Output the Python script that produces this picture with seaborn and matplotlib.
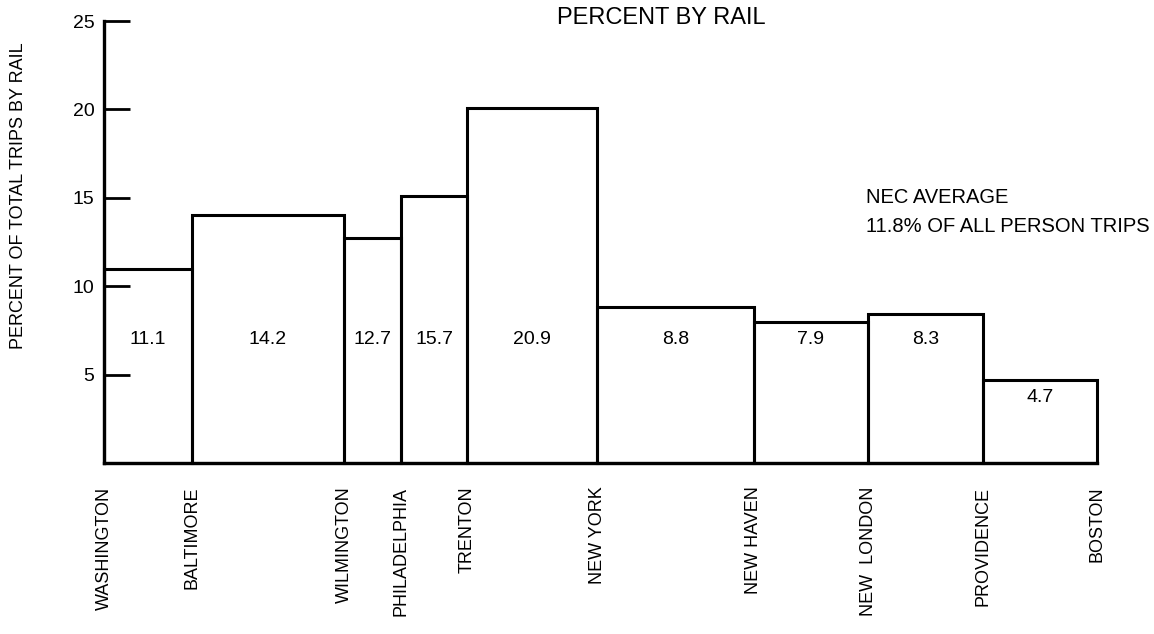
import matplotlib
matplotlib.use("Agg")  # no display
import matplotlib.pyplot as plt
import seaborn as sns
import pandas as pd

# stations along the corridor, placed by rail miles from Washington
cities = ["WASHINGTON", "BALTIMORE", "WILMINGTON", "PHILADELPHIA", "TRENTON",
          "NEW YORK", "NEW HAVEN", "NEW  LONDON", "PROVIDENCE", "BOSTON"]
city_miles = [0, 40, 109, 135, 165, 224, 295, 347, 399, 451]

# drawn height of each segment and the percentage printed inside it
bar_heights = [11.0, 14.0, 12.7, 15.1, 20.1, 8.8, 8.0, 8.4, 4.7]
bar_labels = ["11.1", "14.2", "12.7", "15.7", "20.9", "8.8", "7.9", "8.3", "4.7"]
y_ticks = [5, 10, 15, 20, 25]

df = pd.DataFrame({
    "mid": [(a + b) / 2 for a, b in zip(city_miles[:-1], city_miles[1:])],
    "pct": bar_heights,
})

sns.set_theme(style="white")
plt.rcParams["font.family"] = ["Liberation Sans", "DejaVu Sans"]
plt.rcParams["text.color"] = "black"

W, H = 1154, 634
fig = plt.figure(figsize=(W / 100, H / 100), dpi=100)
ax = fig.add_axes([104 / W, 1 - 463 / H, (1097 - 104) / W, (463 - 21) / H])

# variable-width bars: one bin per segment, weighted by its percentage
sns.histplot(data=df, x="mid", weights="pct", bins=city_miles, stat="count",
             element="bars", fill=False, color="black", edgecolor="black",
             linewidth=2.2, ax=ax)
for p in ax.patches:
    p.set_clip_on(False)

ax.set_xlim(city_miles[0], city_miles[-1])
ax.set_ylim(0, 25)
ax.set_xlabel("")
ax.set_ylabel("")

ax.set_xticks(city_miles)
ax.set_xticklabels(cities, rotation=90)
ax.tick_params(axis="x", length=0, pad=17, labelsize=13, colors="black")
ax.set_yticks(y_ticks)
ax.tick_params(axis="y", left=True, direction="in", length=19, width=2.0,
               pad=7, labelsize=14, colors="black")

sns.despine(ax=ax)
for side in ["left", "bottom"]:
    ax.spines[side].set_linewidth(2.4)
    ax.spines[side].set_color("black")

for x0, x1, h, lab in zip(city_miles[:-1], city_miles[1:], bar_heights, bar_labels):
    ax.text((x0 + x1) / 2, min(7.0, h - 1.0), lab, ha="center", va="center",
            fontsize=14, color="black")

fig.text(661 / W, 1 - 18 / H, "PERCENT BY RAIL", ha="center", va="center", fontsize=17)
fig.text(866 / W, 1 - 197 / H, "NEC AVERAGE", ha="left", va="center", fontsize=14.5)
fig.text(866 / W, 1 - 227 / H, "11.8% OF ALL PERSON TRIPS", ha="left", va="center", fontsize=14.5)
fig.text(19 / W, 1 - 196 / H, "PERCENT OF TOTAL TRIPS BY RAIL", rotation=90,
         ha="center", va="center", fontsize=13)

fig.savefig("out.png", dpi=100, facecolor="white")
